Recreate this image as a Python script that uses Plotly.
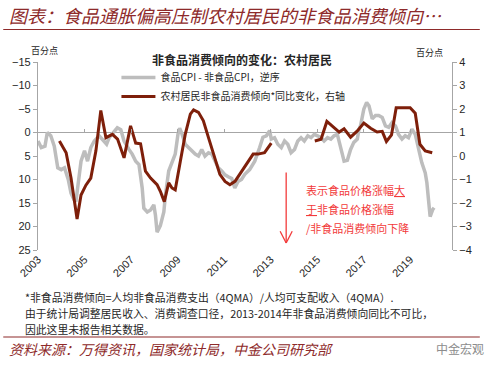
import plotly.graph_objects as go

# ---- data ----
gray_x = [2003.00, 2003.14, 2003.30, 2003.40, 2003.55, 2003.70, 2003.85, 2004.00, 2004.14, 2004.30,
          2004.42, 2004.55, 2004.63, 2004.72, 2004.85, 2005.00, 2005.13, 2005.27, 2005.42, 2005.63,
          2005.85, 2005.95, 2006.06, 2006.27, 2006.41, 2006.56, 2006.70, 2006.91, 2007.05, 2007.20,
          2007.34, 2007.48, 2007.55, 2007.70, 2007.84, 2007.98, 2008.05, 2008.12, 2008.26, 2008.41,
          2008.48, 2008.62, 2008.76, 2008.90, 2009.02, 2009.09, 2009.19, 2009.33, 2009.47, 2009.62,
          2009.76, 2009.90, 2010.04, 2010.18, 2010.33, 2010.47, 2010.61, 2010.75, 2010.90, 2011.04,
          2011.18, 2011.33, 2011.46, 2011.60, 2011.75, 2011.89, 2012.10, 2012.32, 2012.53, 2012.67,
          2012.82, 2012.96, 2013.03, 2013.17, 2013.31, 2013.46, 2013.60, 2013.74, 2013.88, 2014.03,
          2014.17, 2014.31, 2014.45, 2014.60, 2014.74, 2014.88, 2015.02, 2015.17, 2015.30, 2015.45,
          2015.59, 2015.73, 2015.87, 2016.02, 2016.16, 2016.30, 2016.44, 2016.58, 2016.73, 2016.80,
          2016.87, 2017.01, 2017.13, 2017.23, 2017.37, 2017.51, 2017.65, 2017.80, 2017.94, 2018.08,
          2018.22, 2018.37, 2018.50, 2018.65, 2018.79, 2018.93, 2019.08, 2019.22, 2019.36, 2019.50,
          2019.65, 2019.72, 2019.79, 2019.86, 2019.97, 2020.03]
gray_y = [1.8, 3.2, 2.9, 0.0, 0.7, 2.9, 7.5, 7.9, 7.5, 10.0,
          12.9, 14.3, 14.7, 11.0, 6.1, 3.9, 6.1, 3.2, 1.8, 0.7,
          1.8, 2.5, 1.1, -0.3, -1.0, -0.6, 1.8, 3.6, 4.6, 6.1,
          6.8, 11.8, 16.1, 16.9, 16.5, 15.4, 17.6, 21.2, 19.8, 16.9,
          13.3, 8.2, 6.1, 4.6, 0.3, -0.9, 0.3, 2.5, 3.2, 4.0,
          4.6, 5.0, 3.6, 5.0, 4.3, 4.6, 6.1, 7.5, 8.2, 9.0,
          9.4, 9.8, 11.8, 10.4, 10.0, 8.9, 7.9, 6.1, 3.2, 1.0,
          0.7, -0.4, 1.4, 1.1, 2.5, 3.2, 1.8, 2.5, 4.3, 3.6,
          1.8, 1.1, 1.8, 0.7, 1.1, 0.4, 0.7, 1.1, 1.8, 1.1,
          1.4, 0.7, 0.4, 3.0, 6.1, 5.9, 3.6, 2.1, 1.4, -0.7,
          -1.5, -5.0, -6.4, -5.7, -2.9, -3.6, -3.6, -3.2, -1.4, -1.1,
          -2.1, -1.4, 0.4, 1.4, 0.7, 1.1, -0.7, 0.4, 3.6, 6.4,
          8.6, 10.7, 14.3, 17.9, 16.4, 16.0]

red_x = [2003.92, 2004.21, 2004.42, 2004.68, 2004.85, 2005.06, 2005.27, 2005.49, 2005.70, 2005.92,
         2006.20, 2006.42, 2006.70, 2006.98, 2007.20, 2007.41, 2007.62, 2007.84, 2008.12, 2008.26,
         2008.43, 2008.62, 2008.76, 2008.90, 2009.12, 2009.33, 2009.55, 2009.69, 2009.90, 2010.11,
         2010.33, 2010.61, 2010.82, 2011.04, 2011.25, 2011.47, 2011.68, 2012.04, 2012.25, 2012.46,
         2012.74, 2013.03, 2014.00,
         2014.90, 2015.17, 2015.42, 2015.73, 2015.95, 2016.16, 2016.44, 2016.73, 2017.01, 2017.30,
         2017.58, 2017.80, 2017.98, 2018.20, 2018.40, 2018.72, 2019.00, 2019.22, 2019.42, 2019.65,
         2019.95]
red_y = [0.64, 0.14, -0.94, -2.68, -1.66, -1.24, -0.94, 0.22, 1.94, 0.78,
         0.92, 0.72, -0.08, 1.28, 0.55, 0.52, -0.64, -0.94, -1.22, -1.50,
         -1.94, -1.14, -1.36, -1.44, -0.22, 0.92, 1.78, 1.96, 1.86, 1.50,
         0.78, -0.08, -0.78, -1.08, -1.22, -1.08, -0.78, -0.22, 0.08, 0.08,
         0.14, 0.55, None,
         0.64, 0.71, 1.47, 1.21, 1.02, 1.16, 0.80, 1.07, 1.40, 1.18,
         1.02, 1.05, 0.62, 0.90, 2.05, 2.05, 2.05, 1.82, 0.50, 0.22,
         0.14]

year_ticks = [2003, 2005, 2007, 2009, 2011, 2013, 2015, 2017, 2019]
year_labels = [str(y) for y in year_ticks]
left_ticks = [-15, -10, -5, 0, 5, 10, 15, 20, 25]
right_ticks = [-4, -3, -2, -1, 0, 1, 2, 3, 4]

gray_name = "食品CPI - 非食品CPI，逆序"
red_name = "农村居民非食品消费倾向*同比变化，右轴"

# ---- styling ----
GRAY = "#BDBDBD"
RED = "#7E1F0A"
DARKRED = "#8E2A2A"
AXIS = "#A6A6A6"
TXT = "#262626"
FONT = "Liberation Sans, Noto Sans CJK SC, sans-serif"
CJK = "Noto Sans CJK SC, sans-serif"

W, H = 500, 371
ML, MR, MT, MB = 35, 48, 62, 121
PW, PH = W - ML - MR, H - MT - MB


def px_x(p):
    return (p - ML) / PW


def px_y(p):
    return (H - MB - p) / PH


fig = go.Figure()
fig.add_trace(go.Scatter(x=gray_x, y=gray_y, mode="lines", name=gray_name, legendgroup="g",
                         line=dict(color=GRAY, width=3.5), yaxis="y"))
fig.add_trace(go.Scatter(x=red_x, y=red_y, mode="lines", name=red_name, legendgroup="r",
                         line=dict(color=RED, width=3), yaxis="y2", connectgaps=False))

fig.update_layout(
    width=W, height=H,
    margin=dict(l=ML, r=MR, t=MT, b=MB),
    paper_bgcolor="white", plot_bgcolor="white",
    font=dict(family=FONT, size=11, color=TXT),
    showlegend=True,
    legend=dict(x=px_x(114), y=px_y(63), xanchor="left", yanchor="top",
                bgcolor="rgba(0,0,0,0)", font=dict(family=CJK, size=10, color=TXT),
                tracegroupgap=0, itemwidth=34),
    xaxis=dict(range=[2003, 2020.8], tickmode="array", tickvals=year_ticks, ticktext=year_labels,
               tickangle=-45, showgrid=False, zeroline=False, showline=False, ticks="",
               tickfont=dict(size=11, color=TXT)),
    xaxis2=dict(range=[2003, 2020.8], overlaying="x", anchor="free", position=25 / 40,
                side="bottom", tickmode="array", tickvals=year_ticks, showticklabels=False,
                ticks="inside", ticklen=4, tickcolor=AXIS, showline=False, showgrid=False,
                zeroline=False),
    yaxis=dict(range=[25, -15], tickmode="array", tickvals=left_ticks, showgrid=False,
               zeroline=True, zerolinecolor=AXIS, zerolinewidth=1.2,
               showline=True, linecolor=AXIS, linewidth=1.2, ticks="outside", ticklen=4,
               tickcolor=AXIS, tickfont=dict(size=11, color=TXT)),
    yaxis2=dict(range=[-4, 4], tickmode="array", tickvals=right_ticks, overlaying="y", side="right",
                showgrid=False, zeroline=False, showline=True, linecolor=AXIS, linewidth=1.2,
                ticks="outside", ticklen=4, tickcolor=AXIS, tickfont=dict(size=11, color=TXT)),
)
# invisible trace so the zero-line tick axis is drawn
fig.add_trace(go.Scatter(x=[year_ticks[0]], y=[left_ticks[0]], xaxis="x2", yaxis="y",
                         mode="markers", marker=dict(opacity=0), showlegend=False,
                         hoverinfo="skip"))

# chart title and axis unit labels
fig.add_annotation(text="<b>非食品消费倾向的变化：农村居民</b>", xref="paper", yref="paper",
                   x=px_x(240), y=px_y(59), xanchor="center", yanchor="middle", showarrow=False,
                   font=dict(family=CJK, size=12, color=TXT))
fig.add_annotation(text="百分点", xref="paper", yref="paper", x=px_x(26), y=px_y(50),
                   xanchor="left", yanchor="middle", showarrow=False,
                   font=dict(family=CJK, size=9, color=TXT))
fig.add_annotation(text="百分点", xref="paper", yref="paper", x=px_x(414), y=px_y(52),
                   xanchor="left", yanchor="middle", showarrow=False,
                   font=dict(family=CJK, size=9, color=TXT))

# red explanatory arrow and text
ARROW = "#F23A3A"
ax_x = 2013.67
fig.add_shape(type="line", xref="x", yref="y", x0=ax_x, x1=ax_x, y0=8.5, y1=23.5,
              line=dict(color=ARROW, width=1.3))
fig.add_shape(type="line", xref="x", yref="y", x0=ax_x - 0.26, x1=ax_x, y0=21.0, y1=23.5,
              line=dict(color=ARROW, width=1.3))
fig.add_shape(type="line", xref="x", yref="y", x0=ax_x + 0.26, x1=ax_x, y0=21.0, y1=23.5,
              line=dict(color=ARROW, width=1.3))
note_lines = ["表示食品价格涨幅<u>大</u>", "<u>于</u>非食品价格涨幅", "/非食品消费倾向下降"]
for i, t in enumerate(note_lines):
    fig.add_annotation(text=t, xref="x", yref="paper", x=2014.42,
                       y=px_y(190 + 19 * i), xanchor="left", yanchor="middle",
                       showarrow=False, font=dict(family=CJK, size=11, color=ARROW))

# page title, separators, footnotes, source
fig.add_annotation(text="<i>图表：食品通胀偏高压制农村居民的非食品消费倾向…</i>", xref="paper", yref="paper",
                   x=px_x(4), y=px_y(15), xanchor="left", yanchor="middle",
                   showarrow=False, font=dict(family=CJK, size=18, color=DARKRED))
for yy in [29.5, 337]:
    fig.add_shape(type="line", xref="paper", yref="paper", x0=px_x(0), x1=px_x(480),
                  y0=px_y(yy), y1=px_y(yy), line=dict(color=DARKRED, width=1.2))
foot = ["*非食品消费倾向=人均非食品消费支出（4QMA）/人均可支配收入（4QMA）.",
        "由于统计局调整居民收入、消费调查口径，2013-2014年非食品消费倾向同比不可比，",
        "因此这里未报告相关数据。"]
for i, t in enumerate(foot):
    fig.add_annotation(text=t, xref="paper", yref="paper", x=px_x(20),
                       y=px_y(297 + 16 * i), xanchor="left", yanchor="middle",
                       showarrow=False, font=dict(family=CJK, size=10.8, color=TXT))
fig.add_annotation(text="<i>资料来源：万得资讯，国家统计局，中金公司研究部</i>", xref="paper", yref="paper",
                   x=px_x(4), y=px_y(349), xanchor="left", yanchor="middle",
                   showarrow=False, font=dict(family=CJK, size=14, color=DARKRED))
fig.add_annotation(text="中金宏观", xref="paper", yref="paper",
                   x=px_x(434), y=px_y(348), xanchor="left", yanchor="middle",
                   showarrow=False, font=dict(family=CJK, size=12, color="#8C8C8C"))

fig.write_html("out.html", config={"displayModeBar": False},
               post_script="document.body.style.margin='0';")
